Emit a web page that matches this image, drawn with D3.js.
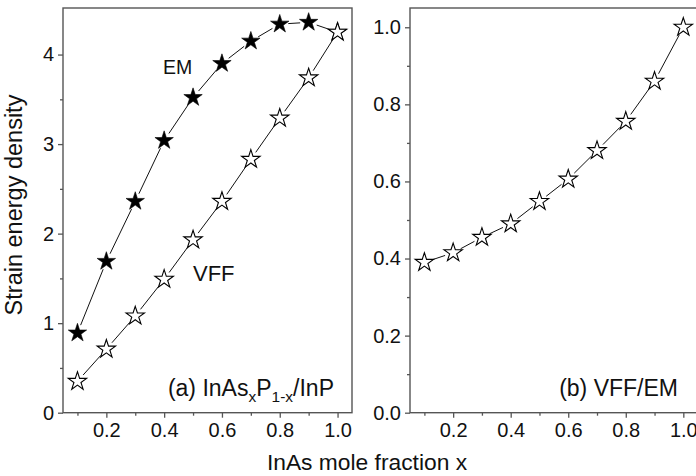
<!DOCTYPE html>
<html><head><meta charset="utf-8">
<script src="https://cdn.jsdelivr.net/npm/d3@7"></script>
<style>
html,body{margin:0;padding:0;background:#fff;}
svg{display:block;font-family:"Liberation Sans",Arial,sans-serif;}
</style></head>
<body>
<svg id="c" width="696" height="476"></svg>
<script>
// ---- data ----
const xFraction = [0.1, 0.2, 0.3, 0.4, 0.5, 0.6, 0.7, 0.8, 0.9, 1.0];
const emValues  = [0.89, 1.69, 2.36, 3.04, 3.52, 3.90, 4.15, 4.34, 4.36, 4.25];
const vffValues = [0.35, 0.71, 1.08, 1.49, 1.93, 2.36, 2.83, 3.29, 3.74, 4.25];
const ratioValues = [0.39, 0.415, 0.455, 0.49, 0.548, 0.606, 0.68, 0.756, 0.86, 1.0];
const xTicks = [0.2, 0.4, 0.6, 0.8, 1.0];
const xMinor = [0.1, 0.3, 0.5, 0.7, 0.9];
const yTicksA = [0, 1, 2, 3, 4];
const yMinorA = [0.5, 1.5, 2.5, 3.5];
const yTicksB = [0.0, 0.2, 0.4, 0.6, 0.8, 1.0];
const yMinorB = [0.1, 0.3, 0.5, 0.7, 0.9];

const svg = d3.select("#c");
const axisColor = "#555";
const plotTop = 8, plotBottom = 412.7;

function panel(x0, x1, yDomain, yTicks, yMinor, yFmt, series) {
  const x = d3.scaleLinear().domain([0.05, 1.05]).range([x0, x1]);
  const y = d3.scaleLinear().domain(yDomain).range([plotBottom, plotTop]);
  const g = svg.append("g");
  g.append("rect").attr("x", x0).attr("y", plotTop).attr("width", x1 - x0).attr("height", plotBottom - plotTop)
    .attr("fill", "none").attr("stroke", axisColor).attr("stroke-width", 1.4);
  g.append("g").attr("transform", `translate(0,${plotBottom})`)
    .call(d3.axisBottom(x).tickValues(xTicks).tickFormat(d3.format(".1f")).tickSize(5).tickPadding(5));
  g.append("g").attr("transform", `translate(0,${plotBottom})`)
    .call(d3.axisBottom(x).tickValues(xMinor).tickFormat("").tickSize(3));
  g.append("g").attr("transform", `translate(${x0},0)`)
    .call(d3.axisLeft(y).tickValues(yTicks).tickFormat(yFmt).tickSize(5).tickPadding(4));
  g.append("g").attr("transform", `translate(${x0},0)`)
    .call(d3.axisLeft(y).tickValues(yMinor).tickFormat("").tickSize(3));
  g.selectAll(".domain").remove();
  g.selectAll(".tick line").attr("stroke", axisColor).attr("stroke-width", 1.3);
  g.selectAll(".tick text").attr("fill", "#111").style("font-size", "20px")
    .style("font-family", "'Liberation Sans',Arial,sans-serif");

  const gap = 8.5;
  series.forEach(s => {
    const pts = xFraction.map((xv, i) => [x(xv), y(s.values[i])]);
    for (let i = 0; i < pts.length - 1; i++) {
      const [ax, ay] = pts[i], [bx, by] = pts[i + 1];
      const dx = bx - ax, dy = by - ay, L = Math.hypot(dx, dy);
      if (L <= 2 * gap) continue;
      const ux = dx / L, uy = dy / L;
      g.append("line")
        .attr("x1", ax + ux * gap).attr("y1", ay + uy * gap)
        .attr("x2", bx - ux * gap).attr("y2", by - uy * gap)
        .attr("stroke", "#111").attr("stroke-width", 1);
    }
  });
  series.forEach(s => {
    const star = d3.symbol().type(d3.symbolStar).size(s.filled ? 105 : 105);
    g.selectAll(null).data(xFraction).enter().append("path")
      .attr("d", star)
      .attr("transform", (d, i) => `translate(${x(d)},${y(s.values[i])})`)
      .attr("fill", s.filled ? "#000" : "#fff")
      .attr("stroke", "#000").attr("stroke-width", s.filled ? 0.6 : 1.1)
      .attr("stroke-linejoin", "miter");
  });
  return {x, y, g};
}

const pa = panel(63, 352, [0, 4.52], yTicksA, yMinorA, d3.format("d"),
  [{values: emValues, filled: true}, {values: vffValues, filled: false}]);
const pb = panel(410, 697.7, [0, 1.05], yTicksB, yMinorB, d3.format(".1f"),
  [{values: ratioValues, filled: false}]);

const txt = (x, y, s, size, anchor) => svg.append("text").attr("x", x).attr("y", y)
  .attr("text-anchor", anchor || "start").attr("fill", "#111").style("font-size", size + "px").text(s);
txt(163, 74, "EM", 19.5);
txt(193, 281, "VFF", 22);

const la = svg.append("text").attr("x", 334).attr("y", 396).attr("text-anchor", "end")
  .attr("fill", "#111").style("font-size", "23px");
la.append("tspan").text("(a) InAs");
la.append("tspan").attr("dy", 6).style("font-size", "15.5px").text("x");
la.append("tspan").attr("dy", -6).text("P");
la.append("tspan").attr("dy", 6).style("font-size", "15.5px").text("1-x");
la.append("tspan").attr("dy", -6).text("/InP");

txt(678, 396, "(b) VFF/EM", 23, "end");

txt(367, 470, "InAs mole fraction x", 22.8, "middle");
svg.append("text").attr("transform", "translate(22,205) rotate(-90)")
  .attr("text-anchor", "middle").attr("fill", "#111").style("font-size", "23.5px")
  .text("Strain energy density");
</script>
</body></html>
